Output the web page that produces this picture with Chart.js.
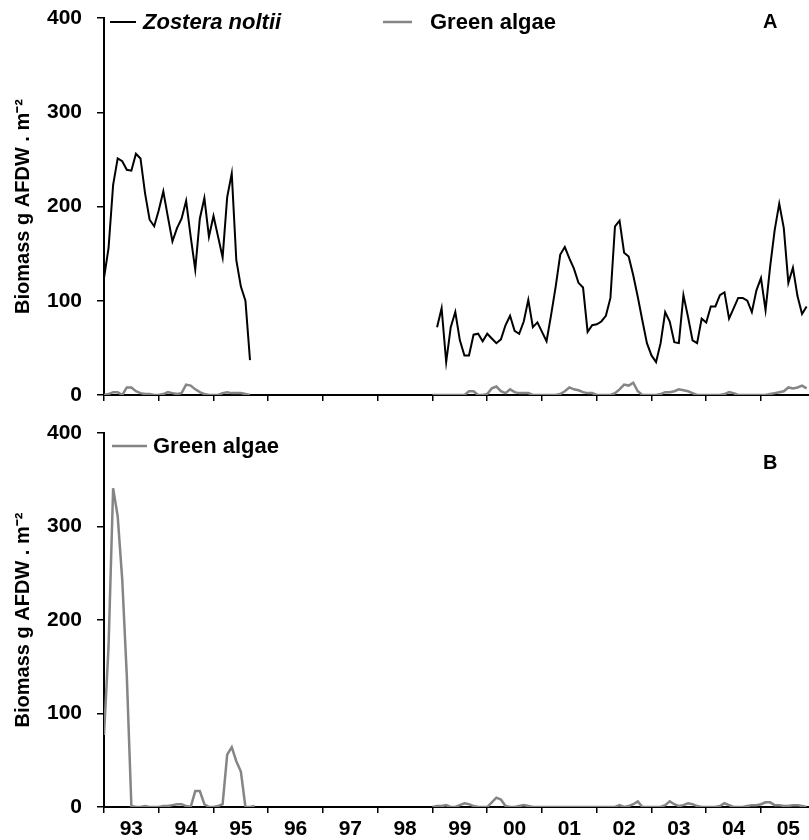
<!DOCTYPE html>
<html>
<head>
<meta charset="utf-8">
<style>
  html, body { margin: 0; padding: 0; background: #fff; }
  canvas { display: block; }
</style>
<script src="https://cdn.jsdelivr.net/npm/chart.js@4.4.1/dist/chart.umd.min.js"></script>
</head>
<body>
<canvas id="panelA" width="809" height="410"></canvas>
<canvas id="panelB" width="809" height="430"></canvas>
<script>
// биомасса: Zostera noltii и зелёные водоросли, помесячно 1993–2005

const YEARS = [1993, 1994, 1995, 1996, 1997, 1998, 1999, 2000, 2001, 2002, 2003, 2004, 2005];
const X_MAX = 2005.877;

// панель A — Zostera noltii (янв 1993 – сен 1995, затем фев 1999 – ноя 2005)
const ZOSTERA_A_93 = [124, 156, 223, 251, 248, 239, 238, 256, 251, 214, 186, 179,
  196, 216, 189, 163, 177, 187, 206, 168, 133, 187, 209, 168,
  190, 168, 146, 210, 235, 143, 115, 100, 37];
const ZOSTERA_A_99 = [72, 92, 35, 72, 88, 58, 42, 42, 64, 65, 57,
  65, 60, 55, 59, 74, 84, 68, 65, 78, 101, 72, 77,
  67, 57, 85, 115, 149, 157, 145, 134, 119, 114, 67, 74,
  75, 78, 84, 103, 179, 185, 151, 147, 127, 104, 79, 55,
  42, 35, 55, 88, 78, 56, 55, 106, 83, 58, 55, 81,
  77, 94, 94, 106, 109, 81, 92, 103, 103, 100, 88, 111,
  124, 90, 136, 175, 203, 177, 119, 135, 105, 86, 94];

// панель A — зелёные водоросли (янв 1993 – сен 1995, янв 1999 – ноя 2005)
const GREEN_A_93 = [0, 1, 3, 3, 0, 8, 8, 4, 2, 1, 1, 0,
  0, 1, 3, 2, 1, 2, 11, 10, 6, 3, 1, 0,
  0, 0, 2, 3, 2, 2, 2, 1, 0];
const GREEN_A_99 = [0, 0, 0, 0, 0, 0, 0, 0, 4, 4, 0, 0,
  1, 7, 9, 4, 2, 6, 3, 2, 2, 2, 0, 0,
  0, 0, 0, 0, 1, 4, 8, 6, 5, 3, 2, 2,
  0, 0, 0, 0, 2, 6, 11, 10, 13, 4, 0, 0,
  0, 0, 1, 3, 3, 4, 6, 5, 4, 2, 0, 0,
  0, 0, 0, 0, 1, 3, 2, 0, 0, 0, 0, 0,
  0, 0, 1, 2, 3, 4, 8, 7, 8, 10, 7];

// панель B — зелёные водоросли (янв 1993 – окт 1995, янв 1999 – ноя 2005)
const GREEN_B_93 = [77, 172, 341, 311, 243, 140, 1, 0, 0, 1, 0, 0,
  0, 1, 1, 2, 3, 3, 1, 0, 17, 17, 3, 0,
  0, 1, 3, 56, 64, 49, 38, 0, 0, 1];
const GREEN_B_99 = [0, 1, 1, 2, 0, 0, 2, 4, 3, 1, 0, 0,
  0, 5, 10, 8, 1, 0, 0, 1, 2, 1, 0, 0,
  0, 0, 0, 0, 0, 0, 0, 0, 0, 0, 0, 0,
  0, 0, 0, 0, 0, 2, 0, 1, 3, 6, 0, 0,
  0, 0, 0, 2, 6, 3, 1, 2, 4, 3, 1, 0,
  0, 0, 0, 1, 4, 2, 0, 0, 0, 1, 2, 2,
  3, 5, 5, 2, 2, 1, 1, 2, 2, 1, 0];

const COLORS = {
  zostera: "#000000",
  algae:   "#858585",
  axis:    "#000000"
};

const FONT = '"Liberation Sans", Arial, Helvetica, sans-serif';

// помесячные точки, начиная с года/месяца
function monthly(year, month, values) {
  return values.map((v, i) => ({ x: year + (month + i) / 12, y: v }));
}

// два отрезка с разрывом между ними
function joinSegments(a, b) {
  return [...a, { x: (a[a.length - 1].x + b[0].x) / 2, y: null }, ...b];
}

const panelLabels = {
  id: "panelLabels",
  afterDraw(chart, args, opts) {
    const ctx = chart.ctx;
    ctx.save();
    ctx.textBaseline = "middle";
    ctx.textAlign = "left";
    opts.items.forEach(it => {
      ctx.strokeStyle = it.color;
      ctx.lineWidth = it.lineWidth;
      ctx.beginPath();
      ctx.moveTo(it.x0, opts.y);
      ctx.lineTo(it.x1, opts.y);
      ctx.stroke();
      ctx.fillStyle = "#000";
      ctx.font = (it.italic ? "italic " : "") + "bold 22px " + FONT;
      ctx.fillText(it.text, it.tx, opts.y + 1);
    });
    ctx.font = "bold 20px " + FONT;
    ctx.fillStyle = "#000";
    ctx.fillText(opts.letter, opts.letterX, opts.letterY);
    ctx.restore();
  }
};

function makePanel(canvasId, datasets, cfg) {
  const ctx = document.getElementById(canvasId).getContext("2d");
  return new Chart(ctx, {
    type: "line",
    data: { datasets },
    options: {
      responsive: false,
      animation: false,
      layout: { padding: { top: cfg.padTop, right: 0, left: 0, bottom: 0 } },
      elements: { point: { radius: 0 }, line: { tension: 0 } },
      plugins: {
        legend: { display: false },
        tooltip: { enabled: false },
        panelLabels: cfg.labels
      },
      scales: {
        x: {
          type: "linear",
          min: 1993,
          max: X_MAX,
          afterBuildTicks: s => { s.ticks = YEARS.map(y => ({ value: y + 0.5 })); },
          afterFit: s => { s.height = cfg.xHeight; s.paddingLeft = 0; s.paddingRight = 0; },
          ticks: {
            display: cfg.showYears,
            autoSkip: false,
            maxRotation: 0,
            padding: 4,
            color: "#000",
            font: { family: FONT, size: 21, weight: "bold" },
            callback: v => String(Math.floor(v)).slice(2)
          },
          grid: { offset: true, drawOnChartArea: false, tickLength: 6, color: COLORS.axis, lineWidth: 1.5 },
          border: { color: COLORS.axis, width: 2 }
        },
        y: {
          min: 0,
          max: 400,
          afterFit: s => { s.width = 104; s.paddingTop = 0; s.paddingBottom = 0; },
          ticks: {
            stepSize: 100,
            padding: 15,
            color: "#000",
            font: { family: FONT, size: 21, weight: "bold" }
          },
          grid: { drawOnChartArea: false, tickLength: 7, color: COLORS.axis, lineWidth: 1.5 },
          border: { color: COLORS.axis, width: 2 },
          title: {
            display: true,
            text: "Biomass g AFDW . m\u207B\u00B2",
            color: "#000",
            font: { family: FONT, size: 20, weight: "bold" },
            padding: { top: 11, bottom: 0 }
          }
        }
      }
    },
    plugins: [panelLabels]
  });
}

makePanel("panelA", [
  {
    label: "Green algae",
    data: joinSegments(monthly(1993, 0, GREEN_A_93), monthly(1999, 0, GREEN_A_99)),
    borderColor: COLORS.algae,
    borderWidth: 2.5,
    spanGaps: false
  },
  {
    label: "Zostera noltii",
    data: joinSegments(monthly(1993, 0, ZOSTERA_A_93), monthly(1999, 1, ZOSTERA_A_99)),
    borderColor: COLORS.zostera,
    borderWidth: 2,
    spanGaps: false
  }
], {
  padTop: 18,
  xHeight: 15,
  showYears: false,
  labels: {
    y: 22,
    items: [
      { text: "Zostera noltii", italic: true, color: COLORS.zostera, lineWidth: 2, x0: 110, x1: 136, tx: 143 },
      { text: "Green algae", italic: false, color: COLORS.algae, lineWidth: 2.5, x0: 383, x1: 412, tx: 430 }
    ],
    letter: "A", letterX: 763, letterY: 22
  }
});

makePanel("panelB", [
  {
    label: "Green algae",
    data: joinSegments(monthly(1993, 0, GREEN_B_93), monthly(1999, 0, GREEN_B_99)),
    borderColor: COLORS.algae,
    borderWidth: 2.5,
    spanGaps: false
  }
], {
  padTop: 23,
  xHeight: 33,
  showYears: true,
  labels: {
    y: 36,
    items: [
      { text: "Green algae", italic: false, color: COLORS.algae, lineWidth: 2.5, x0: 112, x1: 147, tx: 153 }
    ],
    letter: "B", letterX: 763, letterY: 53
  }
});
</script>
</body>
</html>
